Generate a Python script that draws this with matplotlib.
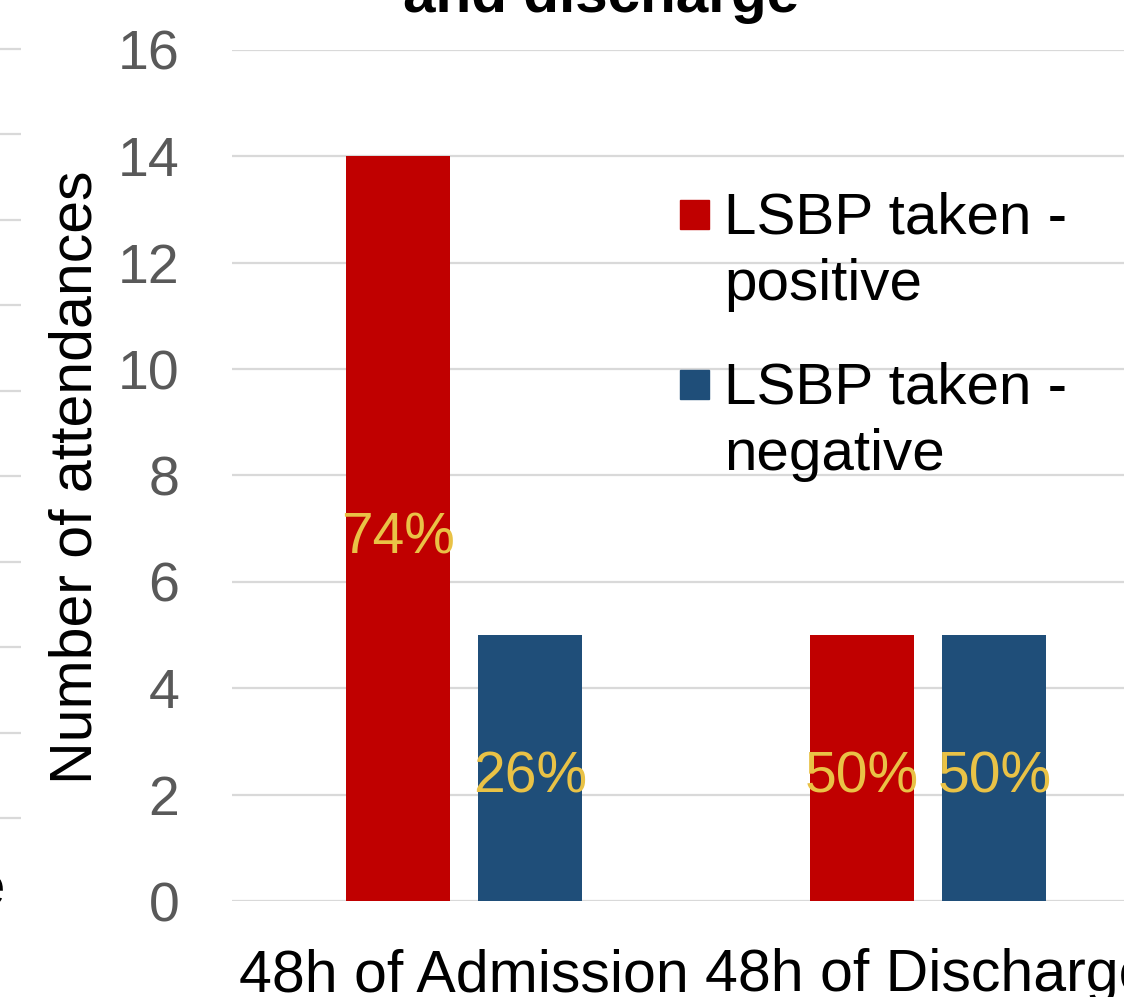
import matplotlib.pyplot as plt
import numpy as np

plt.rcParams['font.family'] = ['Liberation Sans', 'DejaVu Sans']

categories = ["48h of Admission", "48h of Discharge"]
series = [("LSBP taken -", "positive"), ("LSBP taken -", "negative")]
positive = [14, 5]
negative = [5, 5]
pct_positive = ["74%", "50%"]
pct_negative = ["26%", "50%"]
y_ticks = [0, 2, 4, 6, 8, 10, 12, 14, 16]

RED = "#C00000"
BLUE = "#1F4E79"
GOLD = "#E9C246"
GRID = "#D9D9D9"

W, H = 1124, 997
fig = plt.figure(figsize=(W / 100, H / 100), dpi=100)

def px(x0, y0, x1, y1):
    # pixel box (top-left origin) -> figure fraction rect
    return [x0 / W, 1 - y1 / H, (x1 - x0) / W, (y1 - y0) / H]

# sliver of the neighbouring panel on the left
ax_l = fig.add_axes(px(0, 6.3, 21, 860.7))
ax_l.set_ylim(-0.5, 9.5)
ax_l.set_xlim(0, 1)
for v in range(10):
    ax_l.axhline(v, color=GRID, lw=1.6)
ax_l.axis("off")
fig.text(5 / W, 1 - 890 / H, "e", ha="right", va="center", fontsize=42)

ax = fig.add_axes(px(232, 50, 1160, 901))
x = np.arange(len(categories))
bw = 0.224
off = 0.143
b1 = ax.bar(x - off, positive, bw, color=RED, zorder=3)
b2 = ax.bar(x + off, negative, bw, color=BLUE, zorder=3)

for bars, labels in [(b1, pct_positive), (b2, pct_negative)]:
    for bar, lab in zip(bars, labels):
        ax.annotate(lab, (bar.get_x() + bar.get_width() / 2, bar.get_height() / 2),
                    xytext=(0, -7), textcoords="offset points",
                    ha="center", va="center", fontsize=41, color=GOLD, zorder=4)

ax.set_xlim(-0.5, 1.5)
ax.set_ylim(0, 16)
ax.set_yticks(y_ticks)
ax.set_xticks(x)
ax.set_xticklabels(categories)
ax.grid(axis="y", color=GRID, lw=1.6, zorder=0)
ax.set_axisbelow(True)
for s in ax.spines.values():
    s.set_visible(False)
ax.tick_params(axis="y", length=0, labelsize=40, labelcolor="#595959", pad=38)
ax.tick_params(axis="x", length=0, labelsize=42.5, labelcolor="black", pad=34)

fig.text(76 / W, 1 - 477 / H, "Number of attendances", rotation=90,
         ha="center", va="center", fontsize=42.5)

fig.text(601 / W, 1 - 12 / H, "and discharge", ha="center", va="baseline",
         fontsize=42, fontweight="bold")

# legend
for (line1, line2), color, top, base in [(series[0], RED, 200, 233),
                                         (series[1], BLUE, 370, 403)]:
    fig.patches.append(plt.Rectangle((680 / W, 1 - (top + 29) / H), 29 / W, 29 / H,
                                     transform=fig.transFigure, color=color))
    fig.text(724 / W, 1 - base / H, line1, ha="left", va="baseline", fontsize=42)
    fig.text(724 / W, 1 - (base + 67) / H, line2, ha="left", va="baseline", fontsize=42)

fig.savefig("out.png", dpi=100)
